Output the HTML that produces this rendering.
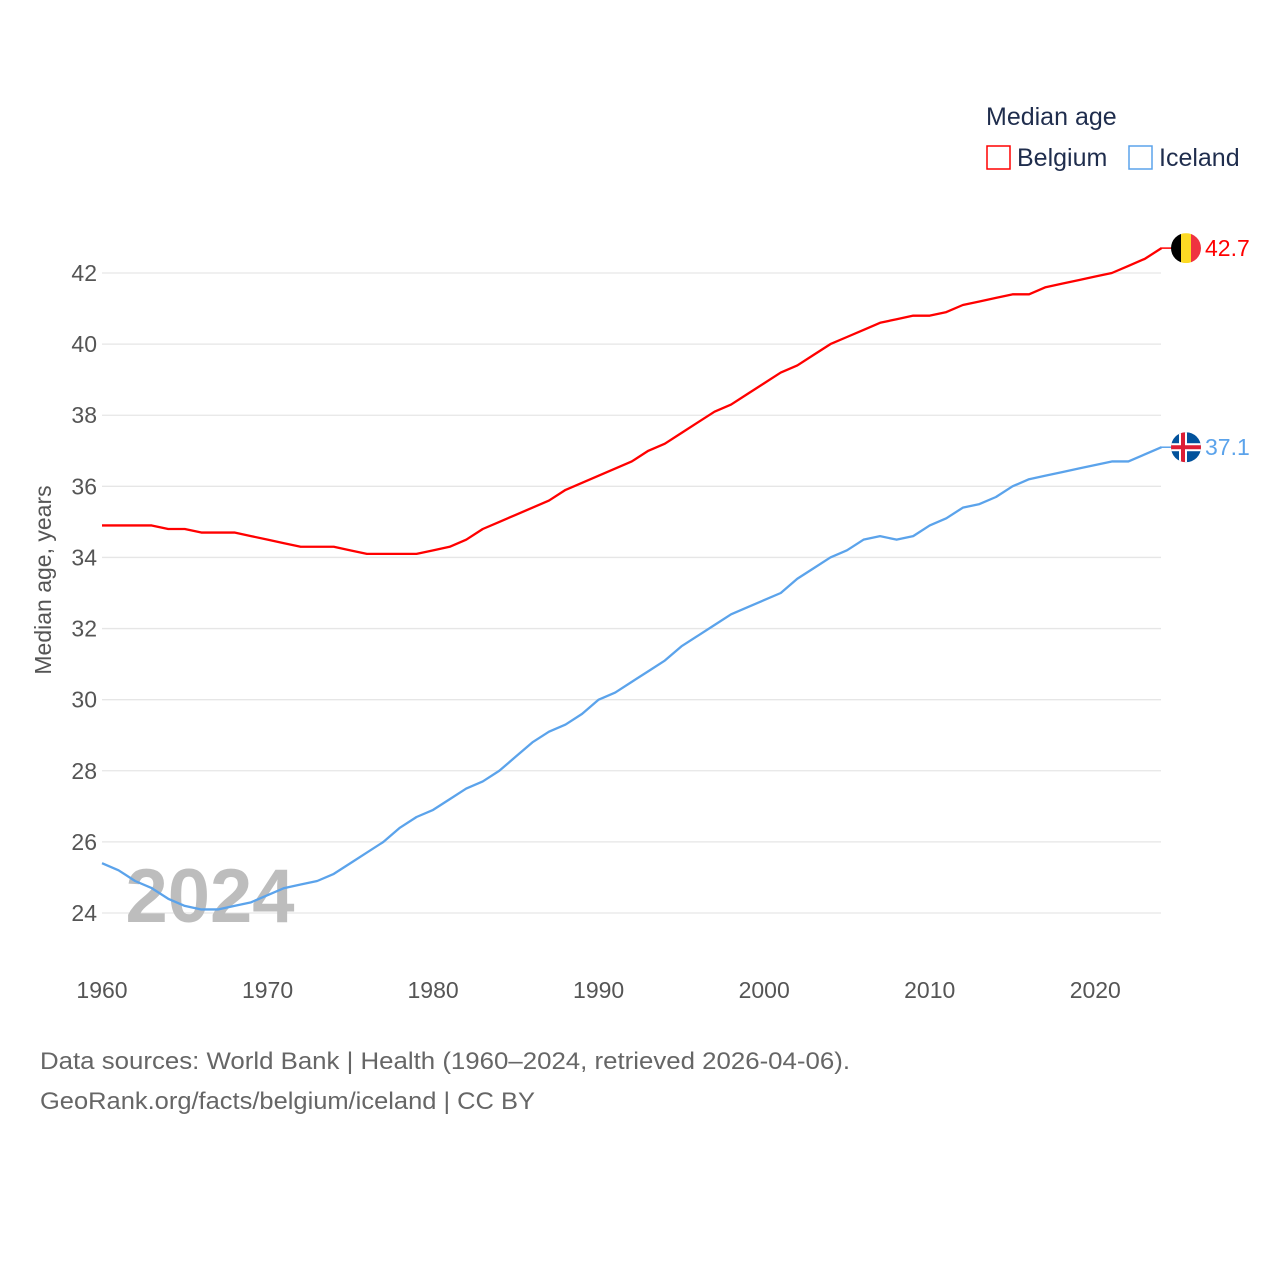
<!DOCTYPE html>
<html><head><meta charset="utf-8"><style>
body{margin:0;background:#fff;font-family:"Liberation Sans",sans-serif;}
svg text{font-family:"Liberation Sans",sans-serif;}
</style></head><body>
<svg id="chart" width="1280" height="1280" viewBox="0 0 1280 1280">
<g id="grid"></g>
<g id="yticks"></g>
<g id="xticks"></g>
<text x="210" y="922" font-size="76" font-weight="bold" fill="#bdbdbd" text-anchor="middle">2024</text>
<g id="lines"></g>
<text transform="translate(51,580) rotate(-90)" font-size="23" fill="#555" text-anchor="middle">Median age, years</text>
<g>
<text x="986" y="125" font-size="25" fill="#1f2d4d">Median age</text>
<g><rect x="987" y="146" width="23" height="23" fill="none" stroke="#f00" stroke-width="1.5"/><text x="1017" y="166" font-size="25" fill="#1f2d4d">Belgium</text></g>
<g><rect x="1129" y="146" width="23" height="23" fill="none" stroke="#5ba3eb" stroke-width="1.5"/><text x="1159" y="166" font-size="25" fill="#1f2d4d">Iceland</text></g>
</g>
<g id="ends"></g>
<text x="40" y="1069" font-size="24" fill="#666" textLength="810" lengthAdjust="spacingAndGlyphs">Data sources: World Bank | Health (1960–2024, retrieved 2026-04-06).</text>
<text x="40" y="1109" font-size="24" fill="#666" textLength="495" lengthAdjust="spacingAndGlyphs">GeoRank.org/facts/belgium/iceland | CC BY</text>
</svg>
<script>
const years = [];for(let y=1960;y<=2024;y++)years.push(y);
const belgium = [34.9,34.9,34.9,34.9,34.8,34.8,34.7,34.7,34.7,34.6,34.5,34.4,34.3,34.3,34.3,34.2,34.1,34.1,34.1,34.1,34.2,34.3,34.5,34.8,35.0,35.2,35.4,35.6,35.9,36.1,36.3,36.5,36.7,37.0,37.2,37.5,37.8,38.1,38.3,38.6,38.9,39.2,39.4,39.7,40.0,40.2,40.4,40.6,40.7,40.8,40.8,40.9,41.1,41.2,41.3,41.4,41.4,41.6,41.7,41.8,41.9,42.0,42.2,42.4,42.7];
const iceland = [25.4,25.2,24.9,24.7,24.4,24.2,24.1,24.1,24.2,24.3,24.5,24.7,24.8,24.9,25.1,25.4,25.7,26.0,26.4,26.7,26.9,27.2,27.5,27.7,28.0,28.4,28.8,29.1,29.3,29.6,30.0,30.2,30.5,30.8,31.1,31.5,31.8,32.1,32.4,32.6,32.8,33.0,33.4,33.7,34.0,34.2,34.5,34.6,34.5,34.6,34.9,35.1,35.4,35.5,35.7,36.0,36.2,36.3,36.4,36.5,36.6,36.7,36.7,36.9,37.1];
const yTicks = [24,26,28,30,32,34,36,38,40,42];
const xTicks = [1960,1970,1980,1990,2000,2010,2020];
const NS="http://www.w3.org/2000/svg";
const X=y=>102+(y-1960)*(1161.5-102)/64;
const Y=v=>913-(v-24)*(913-273)/18;
function mk(tag,attrs,parent,txt){const e=document.createElementNS(NS,tag);for(const k in attrs)e.setAttribute(k,attrs[k]);if(txt!==undefined)e.textContent=txt;parent.appendChild(e);return e;}
const grid=document.getElementById('grid'),yt=document.getElementById('yticks'),xt=document.getElementById('xticks'),lines=document.getElementById('lines'),ends=document.getElementById('ends');
yTicks.forEach(v=>{
 const l=mk('line',{x1:102,x2:1161,y1:Y(v),y2:Y(v),stroke:'#e6e6e6','stroke-width':1.3},grid);
 
 
 const t=mk('text',{x:97,y:Y(v)+8,'font-size':23,fill:'#555','text-anchor':'end'},yt,String(v));
 
 
});
xTicks.forEach(v=>{
 const t=mk('text',{x:X(v),y:998,'font-size':23,fill:'#555','text-anchor':'middle'},xt,String(v));
 
 
});
function series(vals,color,name){
 const p=mk('polyline',{points:vals.map((v,i)=>X(years[i])+','+Y(v)).join(' '),fill:'none',stroke:color,'stroke-width':2.3,'stroke-linejoin':'round'},lines);
 
 
}
series(belgium,'#ff0000','belgium-line');
series(iceland,'#5ba3eb','iceland-line');
const bl=belgium[belgium.length-1],ic=iceland[iceland.length-1];
const cx=1186;
let by=Y(bl),iy=Y(ic);
mk('line',{x1:1161,x2:1172,y1:by,y2:by,stroke:'#f00','stroke-width':1.5},ends);
mk('line',{x1:1161,x2:1172,y1:iy,y2:iy,stroke:'#5ba3eb','stroke-width':1.5},ends);
const defs=mk('defs',{},ends);
const c1=mk('clipPath',{id:'cb'},defs);mk('circle',{cx:cx,cy:by,r:15},c1);
const c2=mk('clipPath',{id:'ci'},defs);mk('circle',{cx:cx,cy:iy,r:15},c2);
const fb=mk('g',{'clip-path':'url(#cb)'},ends);


mk('rect',{x:cx-15,y:by-15,width:10,height:30,fill:'#000'},fb);
mk('rect',{x:cx-5,y:by-15,width:10,height:30,fill:'#fdda24'},fb);
mk('rect',{x:cx+5,y:by-15,width:10,height:30,fill:'#ef3340'},fb);
const fi=mk('g',{'clip-path':'url(#ci)'},ends);


mk('rect',{x:cx-15,y:iy-15,width:30,height:30,fill:'#02529c'},fi);
mk('rect',{x:cx-15,y:iy-4,width:30,height:8,fill:'#fff'},fi);
mk('rect',{x:cx-7,y:iy-15,width:8,height:30,fill:'#fff'},fi);
mk('rect',{x:cx-15,y:iy-2,width:30,height:4,fill:'#dc1e35'},fi);
mk('rect',{x:cx-5,y:iy-15,width:4,height:30,fill:'#dc1e35'},fi);
const tb=mk('text',{x:1205,y:by+8,'font-size':23,fill:'#f00'},ends,bl.toFixed(1));


const ti=mk('text',{x:1205,y:iy+8,'font-size':23,fill:'#5ba3eb'},ends,ic.toFixed(1));


</script>
</body></html>
